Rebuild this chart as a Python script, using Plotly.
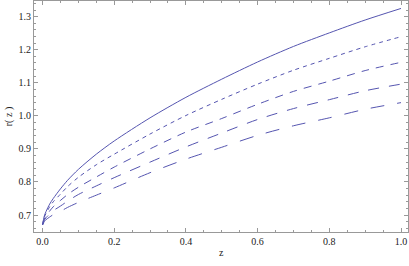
import plotly.graph_objects as go

z = [0.0, 0.005, 0.01, 0.02, 0.03, 0.05, 0.07, 0.1, 0.15, 0.2, 0.3, 0.4, 0.5, 0.6, 0.7, 0.8, 0.9, 1.0]

r_solid = [0.670, 0.697, 0.711, 0.733, 0.750, 0.779, 0.805, 0.838, 0.884, 0.924, 0.994, 1.056, 1.111, 1.163, 1.210, 1.251, 1.290, 1.325]
r_dash1 = [0.670, 0.693, 0.705, 0.725, 0.740, 0.763, 0.786, 0.814, 0.852, 0.884, 0.945, 1.001, 1.050, 1.096, 1.138, 1.174, 1.209, 1.2395]
r_dash2 = [0.670, 0.688, 0.697, 0.712, 0.725, 0.744, 0.762, 0.784, 0.815, 0.845, 0.900, 0.951, 0.992, 1.035, 1.074, 1.105, 1.137, 1.162]
r_dash3 = [0.670, 0.684, 0.692, 0.703, 0.713, 0.727, 0.742, 0.762, 0.788, 0.813, 0.860, 0.906, 0.948, 0.989, 1.022, 1.049, 1.076, 1.096]
r_dash4 = [0.670, 0.680, 0.686, 0.694, 0.701, 0.711, 0.723, 0.738, 0.760, 0.782, 0.828, 0.869, 0.905, 0.941, 0.970, 0.994, 1.020, 1.040]

series = [r_solid, r_dash1, r_dash2, r_dash3, r_dash4]
dashes = ["solid", "4px,4px", "8px,7px", "11px,10px", "14px,13px"]

x_ticks = [0.0, 0.2, 0.4, 0.6, 0.8, 1.0]
x_ticklabels = ["0.0", "0.2", "0.4", "0.6", "0.8", "1.0"]
y_ticks = [0.7, 0.8, 0.9, 1.0, 1.1, 1.2, 1.3]
y_ticklabels = ["0.7", "0.8", "0.9", "1.0", "1.1", "1.2", "1.3"]

line_color = "#5555b0"

fig = go.Figure()
for vals, d in zip(series, dashes):
    fig.add_trace(go.Scatter(x=z, y=vals, mode="lines",
                             line=dict(color=line_color, width=1, dash=d, shape="spline", smoothing=0.8),
                             showlegend=False, hoverinfo="skip"))

font = dict(family="Liberation Serif, Times New Roman, serif", size=10, color="#222222")

fig.update_layout(
    width=409, height=266,
    margin=dict(l=34, r=1, t=1, b=34),
    paper_bgcolor="white", plot_bgcolor="white",
    font=font,
    xaxis=dict(range=[-0.0237, 1.0195], tickvals=x_ticks, ticktext=x_ticklabels,
               ticks="inside", ticklen=4, tickcolor="#999999", tickwidth=1,
               ticklabeloverflow="allow",
               showline=True, linecolor="#999999", linewidth=1, mirror="allticks",
               showgrid=False, zeroline=False,
               minor=dict(dtick=0.05, ticks="inside", ticklen=2, tickcolor="#999999", showgrid=False)),
    yaxis=dict(range=[0.6486, 1.3475], tickvals=y_ticks, ticktext=y_ticklabels,
               ticks="inside", ticklen=4, tickcolor="#999999", tickwidth=1,
               showline=True, linecolor="#999999", linewidth=1, mirror="allticks",
               showgrid=False, zeroline=False,
               minor=dict(dtick=0.02, tick0=0.7, ticks="inside", ticklen=2, tickcolor="#999999", showgrid=False),
               title=dict(text="r( z )", font=font, standoff=4)),
    annotations=[dict(text="z", xref="paper", yref="paper", x=0.5, y=-0.087,
                      xanchor="center", yanchor="middle", showarrow=False, font=font)],
)

fig.write_html("out.html", config={"displayModeBar": False, "staticPlot": True},
               post_script="document.body.style.margin='0';document.body.style.overflow='hidden';")
